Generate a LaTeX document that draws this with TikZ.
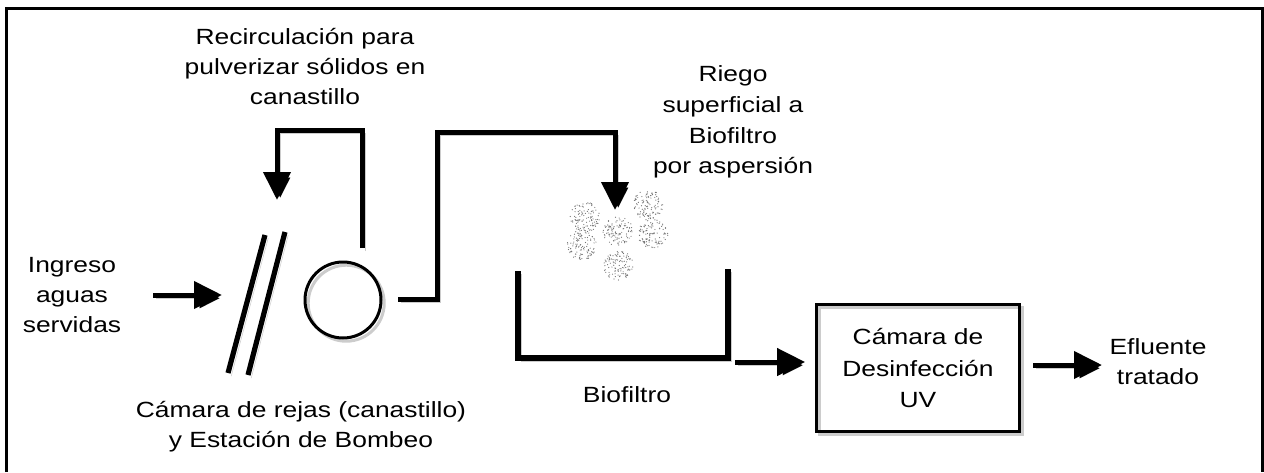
\documentclass[tikz,border=0pt]{standalone}
\usepackage{fontspec}
\setmainfont{Liberation Sans}[FakeStretch=1.2]
\usetikzlibrary{arrows.meta}
\begin{document}
\begin{tikzpicture}[x=0.75pt,y=-0.75pt,
  lbl/.style={align=center, font=\fontsize{16.5}{22.5}\selectfont, inner sep=0pt},
  dropshade/.style={preaction={draw=black, draw opacity=0.2,
      transform canvas={shift={(2.4pt,-2.4pt)}}}},
  pipe/.style={line width=3.75pt, line join=miter, dropshade},
  flow/.style={pipe, -{Triangle[length=21pt,width=20pt]}},
  bar/.style={line width=3.9pt, dropshade},
  tank/.style={line width=4.5pt, line join=miter, dropshade},
  pump/.style={circle, draw, line width=2.25pt, minimum size=57pt, inner sep=0pt, dropshade},
  uvbox/.style={draw, line width=2.25pt, minimum width=152pt, minimum height=95pt,
      align=center, font=\fontsize{16.5}{23.5}\selectfont, dropshade},
  spray/.style={fill=black!55},
]
\useasboundingbox (0,0) rectangle (1264,472);

% outer frame, open at the bottom
\draw[line width=2.25pt] (6,472) -- (6,8) -- (1262,8) -- (1262,472);

% labels
\node[lbl] (recirc) at (305,67) {Recirculación para\\pulverizar sólidos en\\canastillo};
\node[lbl] (ingreso) at (72,295) {Ingreso\\aguas\\servidas};
\node[lbl, font=\fontsize{16.5}{23}\selectfont] (riego) at (733,122) {Riego\\superficial a\\Biofiltro\\por aspersión};
\node[lbl] (rejas) at (301,427) {Cámara de rejas (canastillo)\\y Estación de Bombeo};
\node[lbl] (biofiltro) at (627,395) {Biofiltro};
\node[lbl] (efluente) at (1158,362) {Efluente\\tratado};

% pump and disinfection chamber
\node[pump] (pump) at (343,300) {};
\node[uvbox] (uv) at (918,368) {Cámara de\\Desinfección\\UV};

% pipe ends
\coordinate (inA) at (153,295);
\coordinate (inB) at (222,295);
\coordinate (pumpTop) at (362,248);
\coordinate (recTip) at (277,200);
\coordinate (pumpOut) at (398,299);
\coordinate (sprayTip) at (615,210);
\coordinate (tankOut) at (735,362);
\coordinate (uvIn) at (uv.west |- tankOut);
\coordinate (uvOut) at (1033,365);
\coordinate (effIn) at (1102,365);

% screen bars of the basket
\draw[bar] (265,235) -- (228,373);
\draw[bar] (285,232) -- (248,375);

% biofilter tank
\draw[tank] (518,271) -- (518,358) -- (728,358) -- (728,269);

% flows
\draw[flow] (inA) -- (inB);
\draw[flow] (pumpTop) -- (362,130) -- (recTip |- 0,130) -- (recTip);
\draw[flow] (pumpOut) -- (437,299) -- (437,132) -- (sprayTip |- 0,132) -- (sprayTip);
\draw[flow] (tankOut) -- ([xshift=-7.5pt]uvIn);
\draw[flow] (uvOut) -- (effIn);

% sprinkled droplets over the biofilter
\pgfmathsetseed{7}
\foreach \cx/\cy in {585/217, 582/245, 618/231, 648/205, 653/234, 618/265} {
  \foreach \k in {1,...,110} {
    \pgfmathsetmacro\ang{360*rnd}
    \pgfmathsetmacro\rad{15*sqrt(rnd)}
    \pgfmathsetmacro\px{\cx+\rad*cos(\ang)}
    \pgfmathsetmacro\py{\cy+\rad*sin(\ang)}
    \fill[spray] (\px,\py) circle (0.45pt);
  }
}
\end{tikzpicture}
\end{document}
